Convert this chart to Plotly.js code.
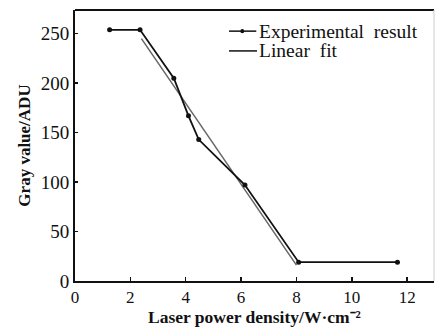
<!DOCTYPE html>
<html><head><meta charset="utf-8">
<script src="https://cdn.plot.ly/plotly-3.0.1.min.js"></script>
<style>html,body{margin:0;padding:0;background:#fff}#chart{width:435px;height:329px}</style>
</head><body><div id="chart"></div>
<script>
const expX = [1.25, 2.35, 3.57, 4.1, 4.47, 6.14, 8.08, 11.65];
const expY = [254, 254, 205, 167, 143, 97, 19, 19];
const fitX = [2.4, 8.0];
const fitY = [245, 16];
const xTicks = [0, 2, 4, 6, 8, 10, 12];
const yTicks = [0, 50, 100, 150, 200, 250];

const traces = [
  {x: fitX, y: fitY, mode: 'lines', name: 'Linear fit', line: {color: '#666', width: 1.5}, showlegend: false},
  {x: expX, y: expY, mode: 'lines+markers', name: 'Experimental result', line: {color: '#111', width: 1.8}, marker: {color: '#111', size: 5}, showlegend: false}
];
const FAM = '"Liberation Serif"';
const f = (size) => ({family: FAM, size: size, color: '#111'});
const layout = {
  width: 435, height: 329,
  margin: {l: 75, r: 1, t: 10, b: 48},
  paper_bgcolor: '#fff', plot_bgcolor: '#fff',
  font: f(16),
  showlegend: false,
  xaxis: {range: [0, 12.97], tickvals: xTicks, ticktext: xTicks.map(String), ticks: 'inside', ticklen: 4, tickwidth: 1.5, tickcolor: '#111',
    showline: true, linecolor: '#111', linewidth: 2, showgrid: false, zeroline: false,
    tickfont: f(17), ticklabelstandoff: 0},
  yaxis: {range: [0, 274], tickvals: yTicks, ticktext: yTicks.map(String), ticks: 'inside', ticklen: 3, tickwidth: 1.5, tickcolor: '#111',
    showline: true, linecolor: '#111', linewidth: 2, showgrid: false, zeroline: false,
    tickfont: f(19),
    title: {text: '<b>Gray value/ADU</b>', font: f(17), standoff: 6}},
  shapes: [
    {type: 'line', xref: 'paper', yref: 'paper', x0: 0, x1: 1, y0: 1, y1: 1, line: {color: '#111', width: 2}},
    {type: 'line', xref: 'paper', yref: 'paper', x0: 1, x1: 1, y0: 0, y1: 1, line: {color: '#ccc', width: 1}},
    {type: 'line', xref: 'paper', yref: 'paper', x0: 0.429, x1: 0.505, y0: 0.922, y1: 0.922, line: {color: '#111', width: 1.5}},
    {type: 'line', xref: 'paper', yref: 'paper', x0: 0.429, x1: 0.507, y0: 0.849, y1: 0.849, line: {color: '#111', width: 1.5}},
    {type: 'circle', xref: 'paper', yref: 'paper', x0: 0.4605, x1: 0.4715, y0: 0.9145, y1: 0.9295, fillcolor: '#111', line: {width: 0}}
  ],
  annotations: [
    {xref: 'paper', yref: 'paper', x: 0.508, y: 0.922, xanchor: 'left', yanchor: 'middle', showarrow: false,
     text: 'Experimental  result', font: f(19.5)},
    {xref: 'paper', yref: 'paper', x: 0.508, y: 0.849, xanchor: 'left', yanchor: 'middle', showarrow: false,
     text: 'Linear  fit', font: f(19.5)},
    {xref: 'paper', yref: 'paper', x: 0.5, y: -0.177, xanchor: 'center', yanchor: 'bottom', showarrow: false,
     text: '<b>Laser power density/W·cm⁻²</b>', font: f(17.5)}
  ]
};
Plotly.newPlot('chart', traces, layout, {displayModeBar: false, staticPlot: true});
</script></body></html>
